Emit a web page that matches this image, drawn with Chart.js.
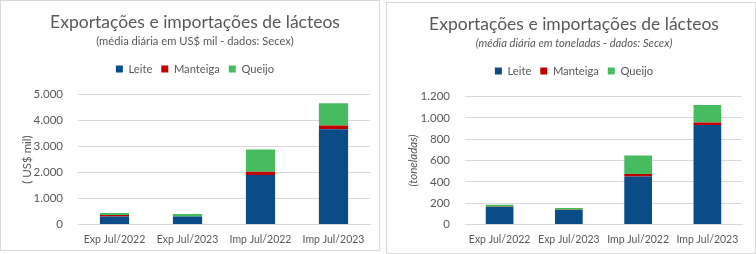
<!DOCTYPE html>
<html>
<head>
<meta charset="utf-8">
<script src="https://cdn.jsdelivr.net/npm/chart.js@4"></script>
<style>
  body { margin: 0; background: #ffffff; }
  .box { position: absolute; border: 1px solid #d9d9d9; background: #fff; }
  #boxUsd { left: 0; top: 0; width: 378px; height: 249px; }
  #boxTon { left: 386px; top: 2px; width: 368px; height: 250px; }
</style>
</head>
<body>
<div class="box" id="boxUsd"><canvas id="graphUsd"></canvas></div>
<div class="box" id="boxTon"><canvas id="graphTon"></canvas></div>
<script>
"use strict"

const categorias = ['Exp Jul/2022', 'Exp Jul/2023', 'Imp Jul/2022', 'Imp Jul/2023'];

// média diária em US$ mil
const leiteUsd = [305, 305, 1905, 3665];
const manteigaUsd = [55, 4, 120, 145];
const queijoUsd = [76, 88, 860, 860];

// média diária em toneladas
const leiteTon = [164, 135, 451, 934];
const manteigaTon = [2, 2, 22, 22];
const queijoTon = [18, 18, 174, 165];

const cinza = '#595959';
const fonte = 'Lato, "Liberation Sans", sans-serif';

function milhar(v) {
    return String(v).replace(/\B(?=(\d{3})+(?!\d))/g, '.');
}

// espaço extra abaixo da legenda
const espacoLegenda = {
    id: 'espacoLegenda',
    beforeInit: function (chart) {
        const fitOriginal = chart.legend.fit;
        chart.legend.fit = function () {
            fitOriginal.bind(chart.legend)();
            this.height += 10;
        };
    }
};

function grafico(id, subtitulo, italico, tituloY, leite, manteiga, queijo, maximo, passo, larguraY, direita, baixo) {
    const ctx = document.getElementById(id).getContext('2d');
    return new Chart(ctx, {
        type: 'bar',
        data: {
            labels: categorias,
            datasets: [
                { label: 'Leite', data: leite, backgroundColor: '#0a4c88' },
                { label: 'Manteiga', data: manteiga, backgroundColor: '#c00000' },
                { label: 'Queijo', data: queijo, backgroundColor: '#47bb5f' }
            ]
        },
        plugins: [espacoLegenda],
        options: {
            responsive: true,
            maintainAspectRatio: false,
            animation: false,
            datasets: { bar: { categoryPercentage: 1, barPercentage: 0.4 } },
            layout: { padding: { left: 19, right: direita, bottom: baixo } },
            plugins: {
                tooltip: { enabled: false },
                title: {
                    display: true,
                    text: 'Exportações e importações de lácteos',
                    color: cinza,
                    font: { family: fonte, size: 17.5, weight: 'normal', lineHeight: 1.2 },
                    padding: { top: 11, bottom: 2 }
                },
                subtitle: {
                    display: true,
                    text: subtitulo,
                    color: cinza,
                    font: { family: fonte, size: 11.2, style: italico ? 'italic' : 'normal', lineHeight: 1.2 },
                    padding: { top: 0, bottom: 6 }
                },
                legend: {
                    labels: {
                        color: cinza,
                        boxWidth: 7,
                        boxHeight: 7,
                        padding: 9,
                        font: { family: fonte, size: 11.2 }
                    }
                }
            },
            scales: {
                x: {
                    stacked: true,
                    grid: { display: false },
                    border: { color: '#d9d9d9' },
                    ticks: {
                        color: cinza,
                        font: { family: fonte, size: 10.5 },
                        padding: 1,
                        maxRotation: 0,
                        minRotation: 0,
                        autoSkip: false
                    }
                },
                y: {
                    stacked: true,
                    min: 0,
                    max: maximo,
                    border: { display: false },
                    grid: { color: '#d9d9d9', drawTicks: false },
                    afterFit: function (scale) { scale.width = larguraY; },
                    ticks: {
                        stepSize: passo,
                        color: cinza,
                        padding: 15,
                        font: { family: fonte, size: 11.5 },
                        callback: function (v) { return milhar(v); }
                    },
                    title: {
                        display: true,
                        text: tituloY,
                        color: cinza,
                        padding: 0,
                        font: { family: fonte, size: 11.5, style: italico ? 'italic' : 'normal' }
                    }
                }
            }
        }
    });
}

grafico('graphUsd', '(média diária em US$ mil - dados: Secex)', false, '( US$ mil)',
    leiteUsd, manteigaUsd, queijoUsd, 5000, 1000, 58, 9, 3);
grafico('graphTon', '(média diária em toneladas - dados: Secex)', true, '(toneladas)',
    leiteTon, manteigaTon, queijoTon, 1200, 200, 59, 13, 6);
</script>
</body>
</html>
